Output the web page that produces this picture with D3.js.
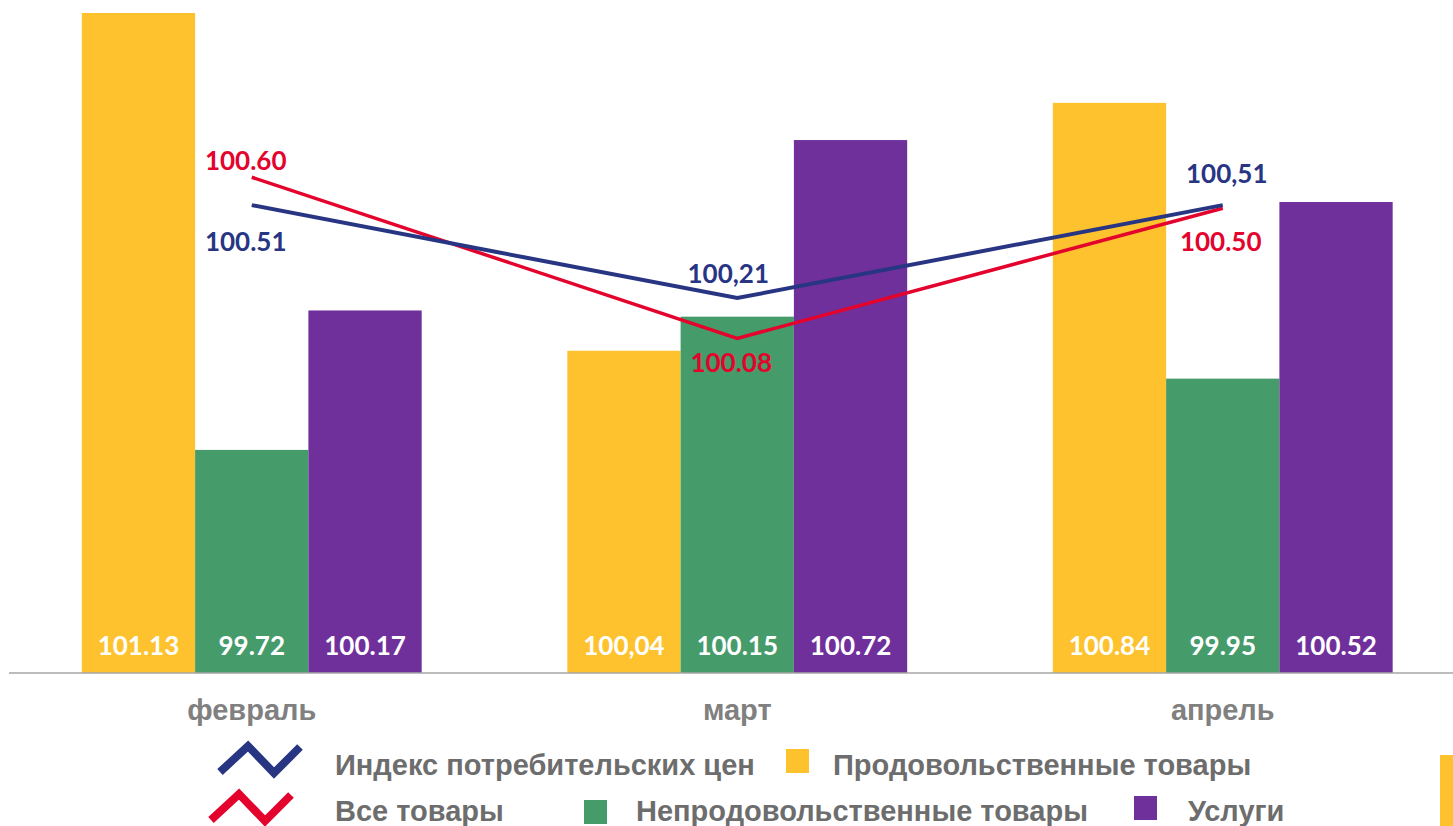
<!DOCTYPE html>
<html>
<head>
<meta charset="utf-8">
<script src="https://cdn.jsdelivr.net/npm/d3@7/dist/d3.min.js"></script>
<style>
  html, body { margin: 0; padding: 0; background: #fff; }
  svg { display: block; }
</style>
</head>
<body>
<svg id="chart" width="1453" height="826"></svg>
<script>
// ---- DATA ----
const months = ["февраль", "март", "апрель"];
const seriesKeys = ["food", "nonfood", "services"];
const seriesNames = ["Продовольственные товары", "Непродовольственные товары", "Услуги"];
const foodValues = [101.13, 100.04, 100.84];
const nonfoodValues = [99.72, 100.15, 99.95];
const servicesValues = [100.17, 100.72, 100.52];
const foodLabels = ["101.13", "100,04", "100.84"];
const nonfoodLabels = ["99.72", "100.15", "99.95"];
const servicesLabels = ["100.17", "100.72", "100.52"];
const cpiValues = [100.51, 100.21, 100.51];
const cpiLabels = ["100.51", "100,21", "100,51"];
const allGoodsValues = [100.60, 100.08, 100.50];
const allGoodsLabels = ["100.60", "100.08", "100.50"];
const lineNames = ["Индекс потребительских цен", "Все товары"];
const yDomain = [99, 101.13];

// ---- STYLE ----
const colors = { food: "#FEC22E", nonfood: "#459B69", services: "#70309B", cpi: "#283583", all: "#E3032D" };
const numFont = "Lato, 'Open Sans', sans-serif";
const txtFont = "'Liberation Sans', Arial, sans-serif";

const svg = d3.select("#chart");

const x0 = d3.scaleBand().domain(months).range([9, 9 + 3 * 485.5]).paddingInner(0.3).paddingOuter(0.15);
const x1 = d3.scaleBand().domain(seriesKeys).range([0, x0.bandwidth()]).padding(0);
const y = d3.scaleLinear().domain(yDomain).range([673, 13]);

const barValues = { food: foodValues, nonfood: nonfoodValues, services: servicesValues };
const barLabels = { food: foodLabels, nonfood: nonfoodLabels, services: servicesLabels };

const rows = months.map((m, i) => ({ month: m, items: seriesKeys.map(k => ({ key: k, value: barValues[k][i], label: barLabels[k][i] })) }));

const groups = svg.append("g").selectAll("g").data(rows).join("g")
  .attr("transform", d => `translate(${x0(d.month)},0)`);

groups.selectAll("rect").data(d => d.items).join("rect")
  .attr("x", d => x1(d.key))
  .attr("width", x1.bandwidth())
  .attr("y", d => y(d.value))
  .attr("height", d => y(yDomain[0]) - y(d.value))
  .attr("fill", d => colors[d.key]);

groups.selectAll("text").data(d => d.items).join("text")
  .attr("x", d => x1(d.key) + x1.bandwidth() / 2)
  .attr("y", y(yDomain[0]) - 28)
  .attr("text-anchor", "middle")
  .attr("dominant-baseline", "central")
  .attr("fill", "#fff")
  .style("font-family", numFont)
  .style("font-weight", 700)
  .style("font-size", "26px")
  .text(d => d.label);

// baseline axis
const xAxis = d3.axisBottom(x0).tickSize(0).tickPadding(0);
const axisG = svg.append("g").attr("transform", `translate(0,${y(yDomain[0])})`).call(xAxis);
axisG.select(".domain").attr("d", "M9,0H1453").attr("stroke", "#A6A6A6").attr("stroke-width", 1.5);
axisG.selectAll("text")
  .attr("y", 47)
  .attr("dy", 0)
  .attr("fill", "#808080")
  .style("font-family", txtFont)
  .style("font-weight", 700)
  .style("font-size", "29px");

// lines
const cx = m => x0(m) + x0.bandwidth() / 2;
const line = d3.line().x(d => cx(d.month)).y(d => y(d.value));
const allData = months.map((m, i) => ({ month: m, value: allGoodsValues[i], label: allGoodsLabels[i] }));
const cpiData = months.map((m, i) => ({ month: m, value: cpiValues[i], label: cpiLabels[i] }));

svg.append("path").datum(allData).attr("d", line).attr("fill", "none")
  .attr("stroke", colors.all).attr("stroke-width", 3.5).attr("stroke-linejoin", "miter");
svg.append("path").datum(cpiData).attr("d", line).attr("fill", "none")
  .attr("stroke", colors.cpi).attr("stroke-width", 4).attr("stroke-linejoin", "miter");

// line labels (offset from point: dx, dy)
const allOffsets = [[-6, -17], [-6, 24], [-2, 33]];
const cpiOffsets = [[-6, 36], [-9, -25], [4, -32]];
function lineLabels(data, offs, color) {
  svg.append("g").selectAll("text").data(data).join("text")
    .attr("x", (d, i) => cx(d.month) + offs[i][0])
    .attr("y", (d, i) => y(d.value) + offs[i][1])
    .attr("text-anchor", "middle")
    .attr("dominant-baseline", "central")
    .attr("fill", color)
    .style("font-family", numFont)
    .style("font-weight", 700)
    .style("font-size", "26px")
    .text(d => d.label);
}
lineLabels(allData, allOffsets, colors.all);
lineLabels(cpiData, cpiOffsets, colors.cpi);

// legend
const legend = svg.append("g");
const zig = "M0,26 L28,0 L54,27 L80,1";
const lineLegend = [
  { name: lineNames[0], color: colors.cpi, ix: 220, iy: 746, tx: 335, ty: 775 },
  { name: lineNames[1], color: colors.all, ix: 211, iy: 794, tx: 335, ty: 821 }
];
lineLegend.forEach(d => {
  legend.append("path").attr("d", zig).attr("transform", `translate(${d.ix},${d.iy})`)
    .attr("fill", "none").attr("stroke", d.color).attr("stroke-width", 8).attr("stroke-linejoin", "miter");
  legend.append("text").attr("x", d.tx).attr("y", d.ty).attr("fill", "#6D6D6D")
    .style("font-family", txtFont).style("font-weight", 700).style("font-size", "29px").text(d.name);
});
const boxLegend = [
  { name: seriesNames[0], color: colors.food, bx: 786, by: 749, tx: 833, ty: 775 },
  { name: seriesNames[1], color: colors.nonfood, bx: 584, by: 800, tx: 636, ty: 821 },
  { name: seriesNames[2], color: colors.services, bx: 1134, by: 796, tx: 1188, ty: 821 }
];
boxLegend.forEach(d => {
  legend.append("rect").attr("x", d.bx).attr("y", d.by).attr("width", 23).attr("height", 24).attr("fill", d.color);
  legend.append("text").attr("x", d.tx).attr("y", d.ty).attr("fill", "#6D6D6D")
    .style("font-family", txtFont).style("font-weight", 700).style("font-size", "29px").text(d.name);
});
// decorative slab at right edge
svg.append("rect").attr("x", 1440).attr("y", 755).attr("width", 13).attr("height", 71).attr("fill", colors.food);
</script>
</body>
</html>
